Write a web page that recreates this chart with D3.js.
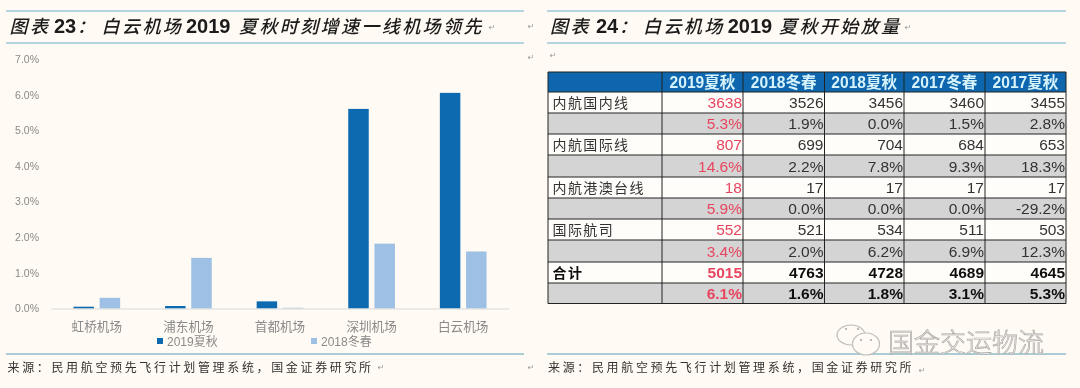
<!DOCTYPE html>
<html><head><meta charset="utf-8">
<script src="https://cdn.jsdelivr.net/npm/d3@7/dist/d3.min.js"></script>
<style>html,body{margin:0;padding:0;background:#fffaf3;}svg{display:block;}</style>
</head><body><svg id="c" width="1080" height="388"></svg>
<script>
const airports=["虹桥机场","浦东机场","首都机场","深圳机场","白云机场"];
const seriesNames=["2019夏秋","2018冬春"];
const summer2019=[0.05,0.07,0.2,5.6,6.05];
const winter2018=[0.3,1.42,0.02,1.82,1.6];
const yTicks=[0,1,2,3,4,5,6,7];
const tableHeader=["","2019夏秋","2018冬春","2018夏秋","2017冬春","2017夏秋"];
const tableRows=[
["内航国内线","3638","3526","3456","3460","3455"],
["","5.3%","1.9%","0.0%","1.5%","2.8%"],
["内航国际线","807","699","704","684","653"],
["","14.6%","2.2%","7.8%","9.3%","18.3%"],
["内航港澳台线","18","17","17","17","17"],
["","5.9%","0.0%","0.0%","0.0%","-29.2%"],
["国际航司","552","521","534","511","503"],
["","3.4%","2.0%","6.2%","6.9%","12.3%"],
["合计","5015","4763","4728","4689","4645"],
["","6.1%","1.6%","1.8%","3.1%","5.3%"]];
const colEdges=[548,662,743,824.5,904,985,1066];
const rowEdges=[72,92,113,134,155,177,198,219,240,262,283,303.5];

const CJK='"Noto Sans CJK SC","Liberation Sans",sans-serif';
const MIX='"Liberation Sans","Noto Sans CJK SC",sans-serif';
const svg=d3.select("#c");
const defs=svg.append("defs");
defs.append("filter").attr("id","soft").attr("x",0).attr("y",0).attr("width",1).attr("height",1)
  .append("feGaussianBlur").attr("stdDeviation",0.5);
const root=svg.append("g").attr("filter","url(#soft)");
root.append("rect").attr("width",1080).attr("height",388).attr("fill","#fffaf3");

// frame rules
[[6,524,11],[6,524,43],[6,524,354],[547,1066,11],[547,1066,43],[547,1066,354]].forEach(([a,b,y])=>{
  root.append("line").attr("x1",a).attr("x2",b).attr("y1",y).attr("y2",y)
    .attr("stroke",y===354?"#8dbccb":"#6fabcf").attr("stroke-width",y===354?1.6:1.2);
});

// titles
function seg(x,s,latin){
  root.append("text").attr("x",x).attr("y",33).text(s).attr("fill","#1a1a1a")
    .attr("font-style",latin?"normal":"italic")
    .attr("font-family",latin?'"Liberation Sans",sans-serif':CJK)
    .attr("font-weight",latin?700:500)
    .attr("font-size",latin?20:18)
    .attr("letter-spacing",latin?0:2.4);
}
[[9.6,"图表",0],[54,"23",1],[77,"：",0],[101.6,"白云机场",0],[186,"2019",1],[239,"夏秋时刻增速一线机场领先",0]].forEach(p=>seg(...p));
[[550,"图表",0],[596,"24",1],[619,"：",0],[643,"白云机场",0],[727.7,"2019",1],[779,"夏秋开始放量",0]].forEach(p=>seg(...p));

// chart
const x=d3.scaleBand().domain(airports).range([51,509]);
const inner=d3.scaleBand().domain(seriesNames).range([0,x.bandwidth()]).paddingInner(0.218).paddingOuter(0.857);
const y=d3.scaleLinear().domain([0,7]).range([308.5,59]);
const fills={"2019夏秋":"#0a69b0","2018冬春":"#9dc0e4"};

const yAxis=d3.axisLeft(y).tickValues(yTicks).tickFormat(d=>d.toFixed(1)+"%").tickSize(0).tickPadding(0);
const ya=root.append("g").attr("transform","translate(39,0)").call(yAxis);
ya.select(".domain").remove();
ya.selectAll("text").attr("font-family",'"Liberation Sans",sans-serif').attr("font-size",10.5).attr("fill","#8a8a8a");

const groups=root.selectAll("g.grp").data(airports).join("g").attr("class","grp")
  .attr("transform",d=>`translate(${x(d)},0)`);
groups.selectAll("rect").data((d,i)=>[{s:seriesNames[0],v:summer2019[i]},{s:seriesNames[1],v:winter2018[i]}]).join("rect")
  .attr("x",d=>inner(d.s)).attr("width",inner.bandwidth())
  .attr("y",d=>y(d.v)).attr("height",d=>y(0)-y(d.v)).attr("fill",d=>fills[d.s]);

const xAxis=d3.axisBottom(x).tickSize(0).tickPadding(14);
const xa=root.append("g").attr("transform",`translate(0,${y(0)})`).call(xAxis);
xa.select(".domain").attr("stroke","#d9d9d9");
xa.selectAll("text").attr("font-family",CJK).attr("font-size",12.6).attr("fill","#8a8a8a");

// legend
[[157,seriesNames[0]],[311,seriesNames[1]]].forEach(([lx,n])=>{
  root.append("rect").attr("x",lx).attr("y",338).attr("width",6).attr("height",6).attr("fill",fills[n]);
  root.append("text").attr("x",lx+10).attr("y",345.5).text(n).attr("font-family",MIX).attr("font-size",12).attr("fill","#8a8a8a");
});

// sources
function src(x0){
  root.append("text").attr("x",x0).attr("y",372).text("来源：民用航空预先飞行计划管理系统，国金证券研究所")
    .attr("font-family",CJK).attr("font-size",12).attr("letter-spacing",2.65).attr("fill","#333");
}
src(7.5);src(548);

// paragraph marks
[[492,30],[531,29],[531,60],[381,370],[531,370],[908,30],[553,58],[922,373]].forEach(([a,b])=>{
  root.append("text").attr("x",a).attr("y",b).text("↵").attr("font-family","DejaVu Sans").attr("font-size",8).attr("fill","#999").attr("text-anchor","middle");
});

// table
const tg=root.append("g");
const nRows=rowEdges.length-1;
tg.append("rect").attr("x",colEdges[0]).attr("y",rowEdges[0]).attr("width",colEdges[6]-colEdges[0]).attr("height",rowEdges[1]-rowEdges[0]).attr("fill","#0a66ae");
tableRows.forEach((r,i)=>{
  tg.append("rect").attr("x",colEdges[0]).attr("y",rowEdges[i+1]).attr("width",colEdges[6]-colEdges[0])
    .attr("height",rowEdges[i+2]-rowEdges[i+1]).attr("fill",i%2?"#d4d4d4":"#fffdf9");
});
tableHeader.forEach((h,j)=>{
  if(!h)return;
  tg.append("text").attr("x",(colEdges[j]+colEdges[j+1])/2).attr("y",88).text(h)
    .attr("text-anchor","middle").attr("font-family",MIX).attr("font-weight",700).attr("font-size",15.6).attr("fill","#d6f2fb");
});
tableRows.forEach((r,i)=>{
  const bold=i>=8;
  const by=rowEdges[i+2]-5;
  r.forEach((c,j)=>{
    if(!c)return;
    const t=tg.append("text").text(c).attr("y",by)
      .attr("font-size",j===0?14:15.5)
      .attr("font-family",j===0?CJK:'"Liberation Sans",sans-serif')
      .attr("font-weight",bold?700:400)
      .attr("fill",j===1?"#e8455f":(bold?"#111":"#333"));
    if(j===0){t.attr("x",colEdges[0]+4.5).attr("letter-spacing",1.4);}
    else{t.attr("x",colEdges[j+1]-1).attr("text-anchor","end");}
  });
});
rowEdges.forEach((ry,i)=>{
  tg.append("line").attr("x1",colEdges[0]).attr("x2",colEdges[6]).attr("y1",ry).attr("y2",ry)
    .attr("stroke","#222").attr("stroke-width",(i===0||i===nRows)?1.2:1);
});
colEdges.forEach(cx=>{
  tg.append("line").attr("x1",cx).attr("x2",cx).attr("y1",rowEdges[0]).attr("y2",rowEdges[nRows])
    .attr("stroke","#222").attr("stroke-width",1);
});

// watermark
const wm=root.append("g").attr("fill","#fffaf3").attr("stroke","#bdbdbd").attr("stroke-width",1.2);
wm.append("ellipse").attr("cx",851).attr("cy",335).attr("rx",14).attr("ry",10);
wm.append("ellipse").attr("cx",866).attr("cy",344).attr("rx",13.5).attr("ry",11);
[[846,329],[858,329],[861,340],[871,340]].forEach(([a,b])=>wm.append("circle").attr("cx",a).attr("cy",b).attr("r",0.9).attr("fill","#999").attr("stroke","none"));
root.append("text").attr("x",888).attr("y",352).text("国金交运物流").attr("font-family",CJK).attr("font-weight",300)
  .attr("font-size",26).attr("fill","#fffaf3").attr("stroke","#a8a8a8").attr("stroke-width",0.7);
</script></body></html>
